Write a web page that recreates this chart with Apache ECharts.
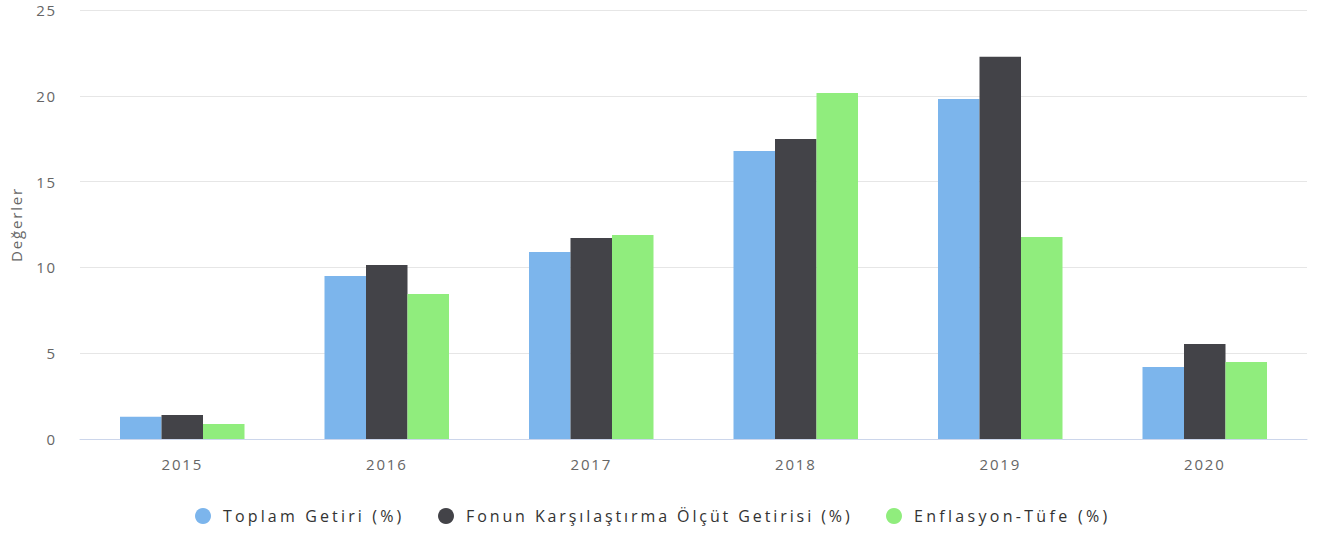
<!DOCTYPE html>
<html>
<head>
<meta charset="utf-8">
<script src="https://cdn.jsdelivr.net/npm/echarts@6/dist/echarts.min.js"></script>
<style>
  html, body { margin: 0; padding: 0; background: #fff; }
  #chart { width: 1321px; height: 537px; }
  #chart text { letter-spacing: 1.8px; }
  #chart text.lg0 { letter-spacing: 3.15px; }
  #chart text.lg1 { letter-spacing: 2.9px; }
  #chart text.lg2 { letter-spacing: 3.3px; }
</style>
</head>
<body>
<div id="chart"></div>
<script>
const categories = ['2015', '2016', '2017', '2018', '2019', '2020'];
const toplamGetiri = [1.30, 9.50, 10.90, 16.78, 19.81, 4.20];
const olcutGetirisi = [1.40, 10.14, 11.71, 17.48, 22.28, 5.54];
const enflasyon = [0.87, 8.45, 11.89, 20.16, 11.77, 4.49];
const seriesNames = ['Toplam Getiri (%)', 'Fonun Karşılaştırma Ölçüt Getirisi (%)', 'Enflasyon-Tüfe (%)'];
const colors = ['#7cb5ec', '#434348', '#90ed7d'];

const chart = echarts.init(document.getElementById('chart'), null, { renderer: 'svg' });
const font = 'Open Sans';
const legendLefts = [190, 433, 881];
const mkLegend = (i) => ({
  data: [seriesNames[i]],
  left: legendLefts[i],
  top: 503,
  icon: 'circle',
  itemWidth: 30,
  itemHeight: 16,
  itemGap: 0,
  textStyle: { fontFamily: font, fontSize: 16, color: '#333333' }
});
chart.setOption({
  animation: false,
  color: colors,
  grid: { left: 79, right: 14, top: 10, bottom: 98 },
  legend: [mkLegend(0), mkLegend(1), mkLegend(2)],
  xAxis: {
    type: 'category',
    data: categories,
    axisLine: { lineStyle: { color: '#ccd6eb', width: 1 } },
    axisTick: { show: false },
    axisLabel: { fontFamily: font, fontSize: 15, color: '#666666', margin: 17 }
  },
  yAxis: {
    type: 'value',
    min: 0, max: 25, interval: 5,
    name: 'Değerler',
    nameLocation: 'middle',
    nameGap: 57,
    nameTextStyle: { fontFamily: font, fontSize: 15, color: '#666666' },
    axisLine: { show: false },
    axisTick: { show: false },
    splitLine: { lineStyle: { color: '#e6e6e6', width: 1 } },
    axisLabel: { fontFamily: font, fontSize: 15, color: '#666666', margin: 23, padding: [8, 0, 0, 0] }
  },
  series: [
    { name: seriesNames[0], type: 'bar', data: toplamGetiri, barWidth: 41.5, barGap: '0%' },
    { name: seriesNames[1], type: 'bar', data: olcutGetirisi, barWidth: 41.5, barGap: '0%' },
    { name: seriesNames[2], type: 'bar', data: enflasyon, barWidth: 41.5, barGap: '0%' }
  ]
});
// wider letter spacing for the legend texts
document.querySelectorAll('#chart text').forEach(t => {
  const i = seriesNames.indexOf(t.textContent);
  if (i >= 0) t.classList.add('lg' + i);
});
</script>
</body>
</html>
